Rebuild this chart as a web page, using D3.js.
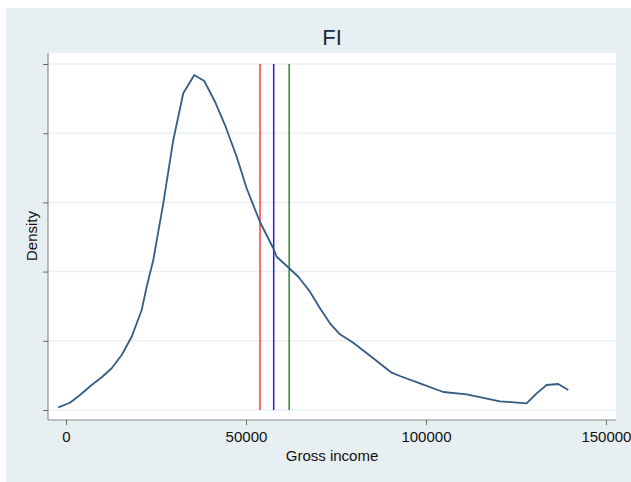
<!DOCTYPE html>
<html><head><meta charset="utf-8">
<script src="https://cdn.jsdelivr.net/npm/d3@7"></script>
<style>body{margin:0;background:#fff}svg{display:block}</style>
</head><body>
<script>
const income = [-2140,1110,3890,7140,9920,12690,15470,18250,21030,22420,24250,27030,29810,32580,35640,38420,41390,44170,47420,50190,53890,57580,58530,62030,64530,67780,70560,73330,76110,79810,85360,90470,92780,98330,104800,111300,120560,127970,130750,133530,136750,139530];
const density = [0.039,0.105,0.217,0.361,0.473,0.603,0.795,1.059,1.445,1.782,2.168,2.987,3.902,4.577,4.841,4.754,4.455,4.118,3.660,3.204,2.717,2.337,2.215,2.048,1.926,1.710,1.470,1.253,1.094,0.973,0.747,0.539,0.491,0.386,0.260,0.227,0.126,0.097,0.241,0.361,0.376,0.289];
const xTicks = [0,50000,100000,150000];
const yTicks = [0,1,2,3,4,5];
const refValues = [53900,57700,62000];
const refColors = ["#ff3b3b","#1a1aff","#2a8a2a"];

const W=631,H=482;
const svg=d3.select("body").append("svg").attr("width",W).attr("height",H);
svg.append("rect").attr("x",6).attr("y",8).attr("width",W-6).attr("height",H-8).attr("fill","#e8eff2");
const L=48,R=616,T=53,B=420;
svg.append("rect").attr("x",L).attr("y",T).attr("width",R-L).attr("height",B-T).attr("fill","#fff");

const x=d3.scaleLinear().domain([-5000,152800]).range([L,R]);
const y=d3.scaleLinear().domain([0,5]).range([410,64]);

svg.append("g").selectAll("line").data(yTicks).join("line")
 .attr("x1",L).attr("x2",R).attr("y1",d=>y(d)).attr("y2",d=>y(d))
 .attr("stroke","#eaf1f4").attr("stroke-width",1.5);

const xa=svg.append("g").attr("transform",`translate(0,${B})`)
 .call(d3.axisBottom(x).tickValues(xTicks).tickFormat(d3.format("d")).tickSize(5).tickPadding(6));
const ya=svg.append("g").attr("transform",`translate(${L},0)`)
 .call(d3.axisLeft(y).tickValues(yTicks).tickFormat("").tickSize(5));
[xa,ya].forEach(a=>{
 a.select(".domain").attr("stroke","#8a8a8a").attr("stroke-width",1.2);
 a.selectAll(".tick line").attr("stroke","#6a6a6a");
 a.selectAll("text").attr("font-family","Liberation Sans, Arial, sans-serif").attr("font-size",15).attr("fill","#111");
});
xa.select(".domain").attr("d",`M${L},0H${R}`);
ya.select(".domain").attr("d",`M0,${T}V${B}`);

svg.append("g").selectAll("line").data(refValues).join("line")
 .attr("x1",d=>x(d)).attr("x2",d=>x(d)).attr("y1",y(5)).attr("y2",y(0))
 .attr("stroke",(d,i)=>refColors[i]).attr("stroke-width",1.5);

const pts=income.map((v,i)=>[v,density[i]]);
svg.append("path").datum(pts)
 .attr("d",d3.line().x(d=>x(d[0])).y(d=>y(d[1])))
 .attr("fill","none").attr("stroke","#335d85").attr("stroke-width",1.8).attr("stroke-linejoin","round");

svg.append("text").attr("x",(L+R)/2).attr("y",45).attr("text-anchor","middle")
 .attr("font-family","Liberation Sans, Arial, sans-serif").attr("font-size",22).attr("fill","#1e2a38").text("FI");
svg.append("text").attr("x",(L+R)/2).attr("y",461).attr("text-anchor","middle")
 .attr("font-family","Liberation Sans, Arial, sans-serif").attr("font-size",15).attr("fill","#111").text("Gross income");
svg.append("text").attr("transform","translate(37,236) rotate(-90)").attr("text-anchor","middle")
 .attr("font-family","Liberation Sans, Arial, sans-serif").attr("font-size",15).attr("fill","#111").text("Density");
</script>
</body></html>
